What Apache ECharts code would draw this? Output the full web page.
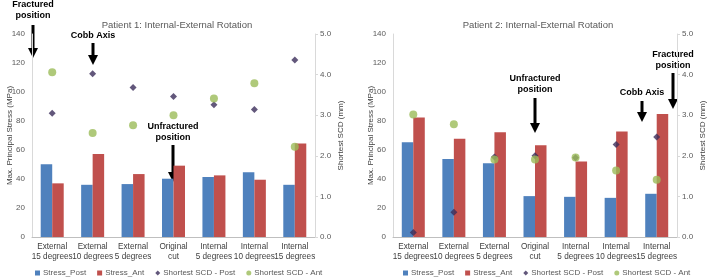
<!DOCTYPE html>
<html>
<head>
<meta charset="utf-8">
<script src="https://cdn.jsdelivr.net/npm/echarts@6/dist/echarts.min.js"></script>
<style>
  html, body { margin: 0; padding: 0; background: #fff; }
  #wrap { position: relative; width: 708px; height: 277px; }
  .chart { position: absolute; top: 0; width: 354px; height: 277px; }
  #chartLeft { left: 0; }
  #chartRight { left: 354px; }
</style>
</head>
<body>
<div id="wrap">
  <div id="chartLeft" class="chart"></div>
  <div id="chartRight" class="chart"></div>
</div>
<script>
  // categories shared by both panels
  var categories = ['External\n15 degrees', 'External\n10 degrees', 'External\n5 degrees', 'Original\ncut',
                    'Internal\n5 degrees', 'Internal\n10 degrees', 'Internal\n15 degrees'];

  // Patient 1
  var p1StressPost = [50.2, 36.0, 36.5, 40.2, 41.4, 44.6, 36.0];
  var p1StressAnt  = [37.0, 57.3, 43.4, 49.2, 42.5, 39.5, 64.5];
  var p1ScdPost    = [3.05, 4.02, 3.68, 3.46, 3.26, 3.14, 4.36];
  var p1ScdAnt     = [4.06, 2.56, 2.75, 3.00, 3.41, 3.79, 2.22];

  // Patient 2
  var p2StressPost = [65.4, 53.8, 50.8, 28.2, 27.7, 27.0, 29.8];
  var p2StressAnt  = [82.5, 67.7, 72.2, 63.3, 52.0, 72.8, 84.8];
  var p2ScdPost    = [0.11, 0.61, 1.97, 2.00, 1.95, 2.28, 2.46];
  var p2ScdAnt     = [3.02, 2.78, 1.91, 1.91, 1.96, 1.64, 1.41];

  var leftTicks = [0, 140, 20];
  var rightTicks = [0, 5, 1];

  var seriesNames = ['Stress_Post', 'Stress_Ant', 'Shortest SCD - Post', 'Shortest SCD - Ant'];
  var colors = ['#4f81bd', '#c0504d', '#3b2d5a', '#9bbb59'];

  // arrow annotation: text lines centered at cx, arrow from y1 to y2
  function arrowNote(lines, cx, ty, y1, y2) {
    var els = [];
    for (var i = 0; i < lines.length; i++) {
      els.push({
        type: 'text', x: cx, y: ty + i * 10.5,
        style: { text: lines[i], font: 'bold 9px "Liberation Sans", Arial', fill: '#000', align: 'center', verticalAlign: 'middle' }
      });
    }
    els.push({ type: 'line', shape: { x1: cx, y1: y1, x2: cx, y2: y2 - 8 }, style: { stroke: '#000', lineWidth: 3 } });
    els.push({ type: 'polygon', shape: { points: [[cx - 5, y2 - 10], [cx + 5, y2 - 10], [cx, y2]] }, style: { fill: '#000' } });
    return els;
  }

  function buildOption(title, titleX, gridLeft, gridRight, legendLeft, post, ant, scdPost, scdAnt, notes) {
    return {
      animation: false,
      textStyle: { fontFamily: '"Liberation Sans", Arial, sans-serif' },
      title: {
        text: title, left: titleX, top: 15, textAlign: 'center',
        textStyle: { fontSize: 9.5, fontWeight: 'normal', color: '#595959' }
      },
      legend: {
        left: legendLeft, top: 264, width: 330, itemWidth: 5, itemHeight: 5, itemGap: 11,
        textStyle: { fontSize: 8, color: '#595959', padding: [0, 0, 0, -2] },
        data: [
          { name: seriesNames[0], icon: 'rect' },
          { name: seriesNames[1], icon: 'rect' },
          { name: seriesNames[2], icon: 'diamond' },
          { name: seriesNames[3], icon: 'circle' }
        ]
      },
      grid: { left: gridLeft, right: gridRight, top: 34, height: 203, containLabel: false, outerBoundsMode: 'none' },
      xAxis: {
        type: 'category', data: categories,
        axisLine: { lineStyle: { color: '#bfbfbf' } },
        axisTick: { show: false },
        axisLabel: { interval: 0, fontSize: 8.2, color: '#404040', lineHeight: 10, margin: 5 }
      },
      yAxis: [
        {
          type: 'value', min: leftTicks[0], max: leftTicks[1], interval: leftTicks[2],
          name: 'Max. Principal Stress (MPa)', nameLocation: 'middle', nameGap: 18, nameMoveOverlap: false,
          nameTextStyle: { fontSize: 8, color: '#404040' },
          splitLine: { show: false },
          axisLine: { show: true, lineStyle: { color: '#d9d9d9' } },
          axisTick: { show: false },
          axisLabel: { fontSize: 8, color: '#595959', margin: 7 }
        },
        {
          type: 'value', min: rightTicks[0], max: rightTicks[1], interval: rightTicks[2],
          name: 'Shortest SCD (mm)', nameLocation: 'middle', nameGap: 22, nameRotate: 90, nameMoveOverlap: false,
          nameTextStyle: { fontSize: 8, color: '#404040' },
          splitLine: { show: false },
          axisLine: { show: true, lineStyle: { color: '#d9d9d9' } },
          axisTick: { show: true, length: 3, lineStyle: { color: '#d9d9d9' } },
          axisLabel: { fontSize: 8, color: '#595959', margin: 5, formatter: function (v) { return v.toFixed(1); } }
        }
      ],
      series: [
        { name: seriesNames[0], type: 'bar', data: post, barWidth: 11.5, barGap: '0%', itemStyle: { color: colors[0] } },
        { name: seriesNames[1], type: 'bar', data: ant, barWidth: 11.5, barGap: '0%', itemStyle: { color: colors[1] } },
        { name: seriesNames[2], type: 'scatter', yAxisIndex: 1, data: scdPost, symbol: 'diamond', symbolSize: 7, itemStyle: { color: colors[2] }, z: 3 },
        { name: seriesNames[3], type: 'scatter', yAxisIndex: 1, data: scdAnt, symbol: 'circle', symbolSize: 8, itemStyle: { color: colors[3] }, z: 4 }
      ],
      graphic: notes
    };
  }

  var leftNotes = [].concat(
    arrowNote(['Fractured', 'position'], 33, 5, 25, 58),
    arrowNote(['Cobb Axis'], 93, 36, 43, 65),
    arrowNote(['Unfractured', 'position'], 173, 127, 145, 182)
  );
  var rightNotes = [].concat(
    arrowNote(['Unfractured', 'position'], 181, 79, 98, 133),
    arrowNote(['Cobb Axis'], 288, 93, 101, 122),
    arrowNote(['Fractured', 'position'], 319, 55, 73, 109)
  );

  var chartLeft = echarts.init(document.getElementById('chartLeft'));
  chartLeft.setOption(buildOption('Patient 1: Internal-External Rotation', 172, 32, 39, 30,
    p1StressPost, p1StressAnt, p1ScdPost, p1ScdAnt, leftNotes));

  var chartRight = echarts.init(document.getElementById('chartRight'));
  chartRight.setOption(buildOption('Patient 2: Internal-External Rotation', 179, 39, 31, 44,
    p2StressPost, p2StressAnt, p2ScdPost, p2ScdAnt, rightNotes));
</script>
</body>
</html>
